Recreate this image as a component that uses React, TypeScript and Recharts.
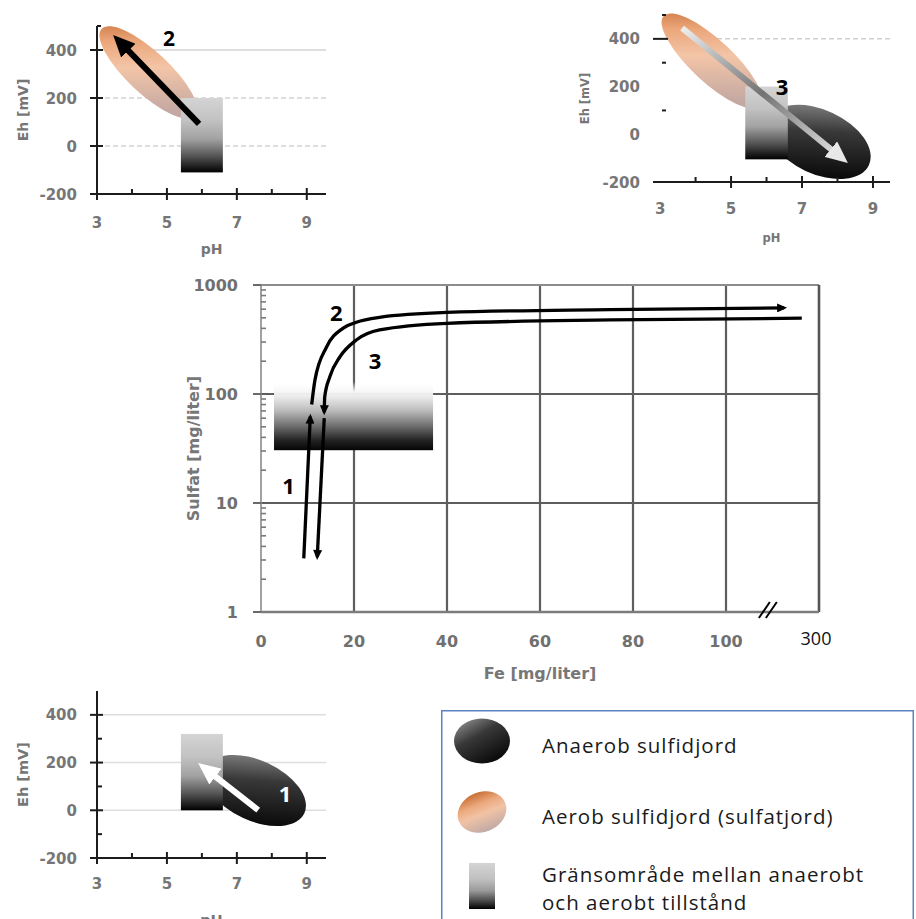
import React from 'react';
import {
  ComposedChart,
  Line,
  XAxis,
  YAxis,
  CartesianGrid,
  ReferenceLine,
  ReferenceArea,
  ReferenceDot,
} from 'recharts';

/* ======================= DATA ======================= */
// Eh–pH panels
const phTicks = [3, 4, 5, 6, 7, 8, 9];
const phLabels = [3, 5, 7, 9];
const ehLabels = [-200, 0, 200, 400];

// Panel "2" (top left)
const aerobZoneA = [{ cx: 4.47, cy: 306, dx: 1.83, dy: 87.5, angle: 43 }];
const anaerobZoneA: Zone[] = [];
const transitionA = [{ x1: 5.4, x2: 6.6, y1: -110, y2: 200 }];
const arrowA = [
  { x: 5.92, y: 92 },
  { x: 3.6, y: 442 },
];
const stepA = [{ x: 5.06, y: 450, text: '2' }];

// Panel "3" (top right)
const aerobZoneB = [{ cx: 4.46, cy: 307, dx: 1.86, dy: 88, angle: 43 }];
const anaerobZoneB = [{ cx: 7.48, cy: -32, dx: 1.55, dy: 134, angle: 25 }];
const transitionB = [{ x1: 5.4, x2: 6.6, y1: -105, y2: 200 }];
const arrowB = [
  { x: 3.62, y: 445 },
  { x: 8.14, y: -102 },
];
const stepB = [{ x: 6.44, y: 202, text: '3' }];

// Panel "1" (bottom left)
const aerobZoneD: Zone[] = [];
const anaerobZoneD = [{ cx: 7.53, cy: 83, dx: 1.545, dy: 126, angle: 25 }];
const transitionD = [{ x1: 5.4, x2: 6.6, y1: 0, y2: 320 }];
const arrowD = [
  { x: 7.61, y: 1 },
  { x: 6.05, y: 180 },
];
const stepD = [{ x: 8.38, y: 72, text: '1' }];

// Main chart: Sulfat vs Fe
const feTicks = [0, 20, 40, 60, 80, 100, 120];
const feTickLabels = ['0', '20', '40', '60', '80', '100', '300'];
const feGrid = [20, 40, 60, 80, 100];
const sulfatMajor = [1, 10, 100, 1000];
const sulfatMinor = [
  2, 3, 4, 5, 6, 7, 8, 9, 20, 30, 40, 50, 60, 70, 80, 90, 200, 300, 400, 500, 600, 700, 800, 900,
];
const sulfatGrid = [10, 100];
const path1 = [
  { x: 9.2, y: 3.1 },
  { x: 10.6, y: 62 },
];
const path2 = [
  { x: 10.9, y: 80 },
  { x: 11.6, y: 134 },
  { x: 14.1, y: 270 },
  { x: 17.6, y: 400 },
  { x: 20.5, y: 455 },
  { x: 25.5, y: 505 },
  { x: 40, y: 560 },
  { x: 75, y: 595 },
  { x: 112.5, y: 617 },
];
const path3 = [
  { x: 13.6, y: 68 },
  { x: 13.7, y: 94 },
  { x: 14.8, y: 144 },
  { x: 17, y: 220 },
  { x: 20.5, y: 313 },
  { x: 25.5, y: 387 },
  { x: 40, y: 445 },
  { x: 75, y: 478 },
  { x: 116.3, y: 496 },
];
const path4 = [
  { x: 13.6, y: 60 },
  { x: 12.1, y: 3.2 },
];
const mainTransition = [{ x1: 2.8, x2: 37, y1: 30.5, y2: 130 }];
const mainSteps = [
  { x: 5.9, y: 14.6, text: '1' },
  { x: 16.2, y: 569, text: '2' },
  { x: 24.5, y: 205, text: '3' },
];
const axisBreak = [{ x: 109, y: 1 }];

// Legend
const legendItems = [
  { kind: 'anaerob', lines: ['Anaerob sulfidjord'] },
  { kind: 'aerob', lines: ['Aerob sulfidjord (sulfatjord)'] },
  { kind: 'transition', lines: ['Gränsområde mellan anaerobt', 'och aerobt tillstånd'] },
];

/* ======================= STYLE ======================= */
type Zone = { cx: number; cy: number; dx: number; dy: number; angle: number };
type Box = { x1: number; x2: number; y1: number; y2: number };
type Pt = { x: number; y: number };
type Step = { x: number; y: number; text: string };

const AXIS = '#1c1c1c';
const LABEL = '#767676';
const FONT = '"DejaVu Sans", sans-serif';
const NUMFONT = '"Open Sans", sans-serif';

const ellipseShape = (angle: number, fill: string) => (p: any) => {
  const w = Math.abs(p.width);
  const h = Math.abs(p.height);
  const cx = p.x + p.width / 2;
  const cy = p.y + p.height / 2;
  return (
    <ellipse cx={cx} cy={cy} rx={w / 2} ry={h / 2} fill={fill} transform={`rotate(${angle} ${cx} ${cy})`} />
  );
};

const rectShape = (fill: string) => (p: any) => (
  <rect x={p.x} y={p.y} width={Math.abs(p.width)} height={Math.abs(p.height)} fill={fill} />
);

const textShape = (txt: string, color: string, size: number) => (p: any) => (
  <text
    x={p.cx}
    y={p.cy}
    textAnchor="middle"
    dominantBaseline="central"
    fontFamily={NUMFONT}
    fontWeight="bold"
    fontSize={size}
    fill={color}
  >
    {txt}
  </text>
);

type PanelCfg = {
  id: string;
  left: number;
  top: number;
  width: number;
  height: number;
  margin: { top: number; right: number; bottom: number; left: number };
  yAxisWidth: number;
  xAxisHeight: number;
  xDomain: [number, number];
  showYAxisLine: boolean;
  xMajorMarks: number[];
  xMinorMarks: number[];
  yTicks: number[];
  yMajorMarks: number[];
  yMinorMarks: number[];
  yMajor: [number, number];
  yMinor: [number, number];
  xLabelDy: number;
  yLabelDx: number;
  tickFont: number;
  titleFont: number;
  yTitleOffset: number;
  xTitleOffset: number;
  gridSolid: number[];
  gridDashed: number[];
  gridColor: string;
  aerob: Zone[];
  anaerob: Zone[];
  transition: Box[];
  arrow: Pt[];
  arrowStroke: string;
  arrowHead: string;
  step: Step[];
  stepColor: string;
  stepFont: number;
};

function Panel({ cfg }: { cfg: PanelCfg }) {
  const id = cfg.id;
  const PhTick = (p: any) => {
    const v = p.payload.value;
    const { x, y } = p;
    return (
      <g>
        {cfg.xMajorMarks.includes(v) && (
          <line x1={x} x2={x} y1={y - 6} y2={y + 6} stroke={AXIS} strokeWidth={2} />
        )}
        {cfg.xMinorMarks.includes(v) && (
          <line x1={x} x2={x} y1={y - 5} y2={y} stroke={AXIS} strokeWidth={2} />
        )}
        {phLabels.includes(v) && (
          <text
            x={x}
            y={y + cfg.xLabelDy}
            textAnchor="middle"
            fontFamily={FONT}
            fontWeight="bold"
            fontSize={cfg.tickFont}
            fill={LABEL}
          >
            {v}
          </text>
        )}
      </g>
    );
  };
  const EhTick = (p: any) => {
    const v = p.payload.value;
    const { x, y } = p;
    return (
      <g>
        {cfg.yMajorMarks.includes(v) && (
          <line x1={x + cfg.yMajor[0]} x2={x + cfg.yMajor[1]} y1={y} y2={y} stroke={AXIS} strokeWidth={2} />
        )}
        {cfg.yMinorMarks.includes(v) && (
          <line x1={x + cfg.yMinor[0]} x2={x + cfg.yMinor[1]} y1={y} y2={y} stroke={AXIS} strokeWidth={2} />
        )}
        {ehLabels.includes(v) && (
          <text
            x={x + cfg.yLabelDx}
            y={y + 5.5}
            textAnchor="end"
            fontFamily={FONT}
            fontWeight="bold"
            fontSize={cfg.tickFont}
            fill={LABEL}
          >
            {v}
          </text>
        )}
      </g>
    );
  };
  return (
    <div style={{ position: 'absolute', left: cfg.left, top: cfg.top, width: cfg.width, height: cfg.height }}>
      <ComposedChart width={cfg.width} height={cfg.height} margin={cfg.margin}>
        <defs>
          <linearGradient id={`${id}-orange`} x1="0" y1="0" x2="1" y2="0.35">
            <stop offset="0" stopColor="#c4682e" />
            <stop offset="0.28" stopColor="#eba67a" />
            <stop offset="0.55" stopColor="#f3c5a7" />
            <stop offset="1" stopColor="#c4a8a2" />
          </linearGradient>
          <linearGradient id={`${id}-black`} x1="0" y1="0" x2="0.7" y2="1">
            <stop offset="0" stopColor="#9c9c9c" />
            <stop offset="0.45" stopColor="#383838" />
            <stop offset="1" stopColor="#080808" />
          </linearGradient>
          <linearGradient id={`${id}-gray`} x1="0" y1="0" x2="0" y2="1">
            <stop offset="0" stopColor="#d4d4d4" />
            <stop offset="0.3" stopColor="#c2c2c2" />
            <stop offset="0.55" stopColor="#a2a2a2" />
            <stop offset="0.78" stopColor="#555555" />
            <stop offset="1" stopColor="#000000" />
          </linearGradient>
          <linearGradient id={`${id}-silver`} x1="0" y1="0" x2="1" y2="1">
            <stop offset="0" stopColor="#eeeeee" />
            <stop offset="0.5" stopColor="#727272" />
            <stop offset="1" stopColor="#e6e6e6" />
          </linearGradient>
          <marker
            id={`${id}-head`}
            viewBox="0 0 22 20"
            markerUnits="userSpaceOnUse"
            markerWidth={22}
            markerHeight={20}
            refX={15}
            refY={10}
            orient="auto"
          >
            <path d="M0,0 L22,10 L0,20 z" fill={cfg.arrowHead} />
          </marker>
        </defs>
        {cfg.gridSolid.length > 0 && (
          <CartesianGrid vertical={false} horizontalValues={cfg.gridSolid} stroke={cfg.gridColor} strokeWidth={1.5} />
        )}
        {cfg.gridDashed.length > 0 && (
          <CartesianGrid
            vertical={false}
            horizontalValues={cfg.gridDashed}
            stroke={cfg.gridColor}
            strokeWidth={1.5}
            strokeDasharray="5 3"
          />
        )}
        <XAxis
          type="number"
          dataKey="x"
          domain={cfg.xDomain}
          ticks={phTicks}
          interval={0}
          height={cfg.xAxisHeight}
          tickLine={false}
          tickSize={0}
          tickMargin={0}
          axisLine={{ stroke: AXIS, strokeWidth: 2 }}
          tick={PhTick}
          label={{
            value: 'pH',
            position: 'insideBottom',
            offset: cfg.xTitleOffset,
            fill: LABEL,
            fontSize: cfg.titleFont,
            fontFamily: FONT,
            fontWeight: 'bold',
          }}
        />
        <YAxis
          type="number"
          domain={[-200, 500]}
          ticks={cfg.yTicks}
          interval={0}
          width={cfg.yAxisWidth}
          tickLine={false}
          tickSize={0}
          tickMargin={0}
          axisLine={cfg.showYAxisLine ? { stroke: AXIS, strokeWidth: 2 } : false}
          tick={EhTick}
          label={{
            value: 'Eh [mV]',
            angle: -90,
            position: 'insideLeft',
            offset: cfg.yTitleOffset,
            fill: LABEL,
            fontSize: cfg.titleFont,
            fontFamily: FONT,
            fontWeight: 'bold',
            style: { textAnchor: 'middle' },
          }}
        />
        {cfg.aerob.map((z, i) => (
          <ReferenceArea
            key={`a${i}`}
            x1={z.cx - z.dx}
            x2={z.cx + z.dx}
            y1={z.cy - z.dy}
            y2={z.cy + z.dy}
            ifOverflow="visible"
            shape={ellipseShape(z.angle, `url(#${id}-orange)`)}
          />
        ))}
        {cfg.anaerob.map((z, i) => (
          <ReferenceArea
            key={`b${i}`}
            x1={z.cx - z.dx}
            x2={z.cx + z.dx}
            y1={z.cy - z.dy}
            y2={z.cy + z.dy}
            ifOverflow="visible"
            shape={ellipseShape(z.angle, `url(#${id}-black)`)}
          />
        ))}
        {cfg.transition.map((b, i) => (
          <ReferenceArea
            key={`t${i}`}
            x1={b.x1}
            x2={b.x2}
            y1={b.y1}
            y2={b.y2}
            ifOverflow="visible"
            shape={rectShape(`url(#${id}-gray)`)}
          />
        ))}
        <Line
          data={cfg.arrow}
          dataKey="y"
          type="linear"
          stroke={cfg.arrowStroke}
          strokeWidth={6}
          dot={false}
          activeDot={false}
          isAnimationActive={false}
          markerEnd={`url(#${id}-head)`}
        />
        {cfg.step.map((s, i) => (
          <ReferenceDot
            key={`s${i}`}
            x={s.x}
            y={s.y}
            r={0}
            ifOverflow="visible"
            shape={textShape(s.text, cfg.stepColor, cfg.stepFont)}
          />
        ))}
      </ComposedChart>
    </div>
  );
}

const panelA: PanelCfg = {
  id: 'pa',
  left: 0,
  top: 0,
  width: 340,
  height: 265,
  margin: { top: 26, right: 14, bottom: 11, left: 0 },
  yAxisWidth: 97,
  xAxisHeight: 60,
  xDomain: [3, 9.55],
  showYAxisLine: true,
  xMajorMarks: [3, 5, 7, 9],
  xMinorMarks: [4, 6, 8],
  yTicks: [-200, 0, 200, 400, 500],
  yMajorMarks: [-200, 0, 200, 400],
  yMinorMarks: [500],
  yMajor: [-7, 6],
  yMinor: [0, 4],
  xLabelDy: 33.5,
  yLabelDx: -20,
  tickFont: 15,
  titleFont: 14,
  yTitleOffset: 23,
  xTitleOffset: 0,
  gridSolid: [400],
  gridDashed: [200, 0],
  gridColor: '#d3d3d3',
  aerob: aerobZoneA,
  anaerob: anaerobZoneA,
  transition: transitionA,
  arrow: arrowA,
  arrowStroke: '#000000',
  arrowHead: '#000000',
  step: stepA,
  stepColor: '#000000',
  stepFont: 21,
};

const panelB: PanelCfg = {
  id: 'pb',
  left: 560,
  top: 0,
  width: 356,
  height: 260,
  margin: { top: 15, right: 26, bottom: 16, left: 0 },
  yAxisWidth: 93,
  xAxisHeight: 62,
  xDomain: [2.8, 9.48],
  showYAxisLine: false,
  xMajorMarks: [5, 7, 9],
  xMinorMarks: [4, 6, 8],
  yTicks: [-200, 0, 100, 200, 300, 400, 500],
  yMajorMarks: [400],
  yMinorMarks: [100, 300, 500],
  yMajor: [0, 15],
  yMinor: [9, 13],
  xLabelDy: 31.5,
  yLabelDx: -13,
  tickFont: 15,
  titleFont: 11.5,
  yTitleOffset: 25,
  xTitleOffset: 2,
  gridSolid: [],
  gridDashed: [400],
  gridColor: '#d0d0d0',
  aerob: aerobZoneB,
  anaerob: anaerobZoneB,
  transition: transitionB,
  arrow: arrowB,
  arrowStroke: 'url(#pb-silver)',
  arrowHead: '#e8e8e8',
  step: stepB,
  stepColor: '#000000',
  stepFont: 22,
};

const panelD: PanelCfg = {
  id: 'pd',
  left: 0,
  top: 680,
  width: 340,
  height: 239,
  margin: { top: 11, right: 14, bottom: 0, left: 0 },
  yAxisWidth: 97,
  xAxisHeight: 61,
  xDomain: [3, 9.55],
  showYAxisLine: true,
  xMajorMarks: [3, 5, 7, 9],
  xMinorMarks: [4, 6, 8],
  yTicks: [-200, -100, 0, 100, 200, 300, 400],
  yMajorMarks: [-200, 0, 200, 400],
  yMinorMarks: [-100, 100, 300],
  yMajor: [-7, 6],
  yMinor: [0, 5],
  xLabelDy: 31,
  yLabelDx: -20,
  tickFont: 15,
  titleFont: 14.5,
  yTitleOffset: 23,
  xTitleOffset: -6,
  gridSolid: [400, 200, 0],
  gridDashed: [],
  gridColor: '#dedede',
  aerob: aerobZoneD,
  anaerob: anaerobZoneD,
  transition: transitionD,
  arrow: arrowD,
  arrowStroke: '#ffffff',
  arrowHead: '#ffffff',
  step: stepD,
  stepColor: '#ffffff',
  stepFont: 22,
};

/* ======================= MAIN CHART ======================= */
const FeTick = (p: any) => {
  const v = p.payload.value;
  const i = feTicks.indexOf(v);
  const label = feTickLabels[i];
  if (i === feTicks.length - 1) {
    return (
      <text x={p.x - 3} y={p.y + 33} textAnchor="middle" fontFamily={NUMFONT} fontSize={18} fill="#111111">
        {label}
      </text>
    );
  }
  return (
    <text
      x={p.x}
      y={p.y + 35}
      textAnchor="middle"
      fontFamily={FONT}
      fontWeight="bold"
      fontSize={16}
      fill="#707070"
    >
      {label}
    </text>
  );
};

const SulfatTick = (p: any) => {
  const v = p.payload.value;
  const { x, y } = p;
  if (sulfatMajor.includes(v)) {
    return (
      <g>
        <line x1={x - 8} x2={x} y1={y} y2={y} stroke="#6a6a6a" strokeWidth={2} />
        <text
          x={x - 23}
          y={y + 6}
          textAnchor="end"
          fontFamily={FONT}
          fontWeight="bold"
          fontSize={16}
          fill="#707070"
        >
          {v}
        </text>
      </g>
    );
  }
  return <line x1={x} x2={x + 5} y1={y} y2={y} stroke="#7a7a7a" strokeWidth={1.6} />;
};

const breakShape = (p: any) => (
  <g stroke="#000" strokeWidth={2}>
    <line x1={p.cx - 9} y1={p.cy + 6} x2={p.cx + 2} y2={p.cy - 10} />
    <line x1={p.cx - 2} y1={p.cy + 6} x2={p.cx + 9} y2={p.cy - 10} />
  </g>
);

function MainChart() {
  const lineProps = {
    dataKey: 'y',
    stroke: '#000',
    strokeWidth: 3.3,
    dot: false,
    activeDot: false,
    isAnimationActive: false,
  } as const;
  return (
    <div style={{ position: 'absolute', left: 150, top: 270, width: 690, height: 420 }}>
      <ComposedChart width={690} height={420} margin={{ top: 15, right: 21, bottom: 0, left: 0 }}>
        <defs>
          <linearGradient id="mc-zone" x1="0" y1="0" x2="0" y2="1">
            <stop offset="0" stopColor="#ffffff" stopOpacity={0} />
            <stop offset="0.14" stopColor="#f6f6f6" stopOpacity={0.95} />
            <stop offset="0.22" stopColor="#ebebeb" />
            <stop offset="0.42" stopColor="#bcbcbc" />
            <stop offset="0.66" stopColor="#6a6a6a" />
            <stop offset="0.86" stopColor="#222222" />
            <stop offset="1" stopColor="#050505" />
          </linearGradient>
          <marker
            id="mc-head"
            viewBox="0 0 10 9"
            markerUnits="userSpaceOnUse"
            markerWidth={11}
            markerHeight={9}
            refX={7}
            refY={4.5}
            orient="auto"
          >
            <path d="M0,0 L10,4.5 L0,9 z" fill="#000" />
          </marker>
          <marker
            id="mc-head-rev"
            viewBox="0 0 10 9"
            markerUnits="userSpaceOnUse"
            markerWidth={11}
            markerHeight={9}
            refX={7}
            refY={4.5}
            orient="auto-start-reverse"
          >
            <path d="M0,0 L10,4.5 L0,9 z" fill="#000" />
          </marker>
        </defs>
        <CartesianGrid
          horizontalValues={sulfatGrid}
          verticalValues={feGrid}
          stroke="#5e5e5e"
          strokeWidth={2.2}
        />
        <XAxis
          type="number"
          dataKey="x"
          domain={[0, 120]}
          ticks={feTicks}
          interval={0}
          height={78}
          tickLine={false}
          tickSize={0}
          tickMargin={0}
          axisLine={{ stroke: '#7c7c7c', strokeWidth: 2.5 }}
          tick={FeTick}
          label={{
            value: 'Fe [mg/liter]',
            position: 'insideBottom',
            offset: 11,
            fill: '#777777',
            fontSize: 16,
            fontFamily: FONT,
            fontWeight: 'bold',
          }}
        />
        <YAxis
          type="number"
          scale="log"
          domain={[1, 1000]}
          ticks={[...sulfatMajor, ...sulfatMinor].sort((a, b) => a - b)}
          interval={0}
          width={111}
          tickLine={false}
          tickSize={0}
          tickMargin={0}
          axisLine={{ stroke: '#8a8a8a', strokeWidth: 1.6 }}
          tick={SulfatTick}
          label={{
            value: 'Sulfat [mg/liter]',
            angle: -90,
            position: 'insideLeft',
            offset: 43,
            fill: '#777777',
            fontSize: 16,
            fontFamily: FONT,
            fontWeight: 'bold',
            style: { textAnchor: 'middle' },
          }}
        />
        <ReferenceLine y={1000} stroke="#8c8c8c" strokeWidth={2} />
        <ReferenceLine x={120} stroke="#555555" strokeWidth={2.6} />
        {mainTransition.map((b, i) => (
          <ReferenceArea
            key={i}
            x1={b.x1}
            x2={b.x2}
            y1={b.y1}
            y2={b.y2}
            ifOverflow="visible"
            shape={rectShape('url(#mc-zone)')}
          />
        ))}
        <Line {...lineProps} data={path1} type="linear" markerEnd="url(#mc-head)" />
        <Line {...lineProps} data={path2} type="monotone" markerEnd="url(#mc-head)" />
        <Line {...lineProps} data={path3} type="monotone" markerStart="url(#mc-head-rev)" />
        <Line {...lineProps} data={path4} type="linear" markerEnd="url(#mc-head)" />
        {mainSteps.map((s, i) => (
          <ReferenceDot
            key={i}
            x={s.x}
            y={s.y}
            r={0}
            ifOverflow="visible"
            shape={textShape(s.text, '#000', 22)}
          />
        ))}
        {axisBreak.map((b, i) => (
          <ReferenceDot key={`br${i}`} x={b.x} y={b.y} r={0} ifOverflow="visible" shape={breakShape} />
        ))}
      </ComposedChart>
    </div>
  );
}

/* ======================= LEGEND ======================= */
function LegendBox() {
  const rowCenters = [31, 102, 176];
  return (
    <svg
      style={{ position: 'absolute', left: 441, top: 710 }}
      width={475}
      height={209}
      viewBox="0 0 475 209"
    >
      <defs>
        <linearGradient id="lg-black" x1="0" y1="0" x2="0.7" y2="1">
          <stop offset="0" stopColor="#a0a0a0" />
          <stop offset="0.45" stopColor="#383838" />
          <stop offset="1" stopColor="#080808" />
        </linearGradient>
        <linearGradient id="lg-orange" x1="0" y1="0" x2="0" y2="1">
          <stop offset="0" stopColor="#c96f35" />
          <stop offset="0.3" stopColor="#eca97f" />
          <stop offset="0.55" stopColor="#f1c3a5" />
          <stop offset="1" stopColor="#c1a9a5" />
        </linearGradient>
        <linearGradient id="lg-gray" x1="0" y1="0" x2="0" y2="1">
          <stop offset="0" stopColor="#d4d4d4" />
          <stop offset="0.35" stopColor="#c0c0c0" />
          <stop offset="0.6" stopColor="#9a9a9a" />
          <stop offset="0.82" stopColor="#4a4a4a" />
          <stop offset="1" stopColor="#000000" />
        </linearGradient>
      </defs>
      <rect x={0.75} y={0.75} width={471.5} height={240} fill="none" stroke="#5b83c4" strokeWidth={1.5} />
      {legendItems.map((it, i) => {
        const cy = rowCenters[i];
        let sym = null;
        if (it.kind === 'anaerob') {
          sym = <ellipse cx={41} cy={cy} rx={28} ry={22.5} fill="url(#lg-black)" />;
        } else if (it.kind === 'aerob') {
          sym = (
            <ellipse
              cx={41}
              cy={cy}
              rx={25}
              ry={20}
              fill="url(#lg-orange)"
              transform={`rotate(-22 41 ${cy})`}
            />
          );
        } else {
          sym = <rect x={28} y={cy - 23} width={26} height={46} fill="url(#lg-gray)" />;
        }
        const firstBaseline = it.lines.length === 1 ? cy + 12 : cy - 4;
        return (
          <g key={i}>
            {sym}
            {it.lines.map((ln, j) => (
              <text
                key={j}
                x={101}
                y={firstBaseline + j * 28}
                fontFamily={NUMFONT}
                fontSize={20.5}
                letterSpacing={1}
                fill="#1a1a1a"
              >
                {ln}
              </text>
            ))}
          </g>
        );
      })}
    </svg>
  );
}

export default function App() {
  return (
    <div
      style={{
        position: 'absolute',
        left: 0,
        top: 0,
        width: 916,
        height: 919,
        overflow: 'hidden',
        background: '#ffffff',
      }}
    >
      <Panel cfg={panelA} />
      <Panel cfg={panelB} />
      <MainChart />
      <Panel cfg={panelD} />
      <LegendBox />
    </div>
  );
}
